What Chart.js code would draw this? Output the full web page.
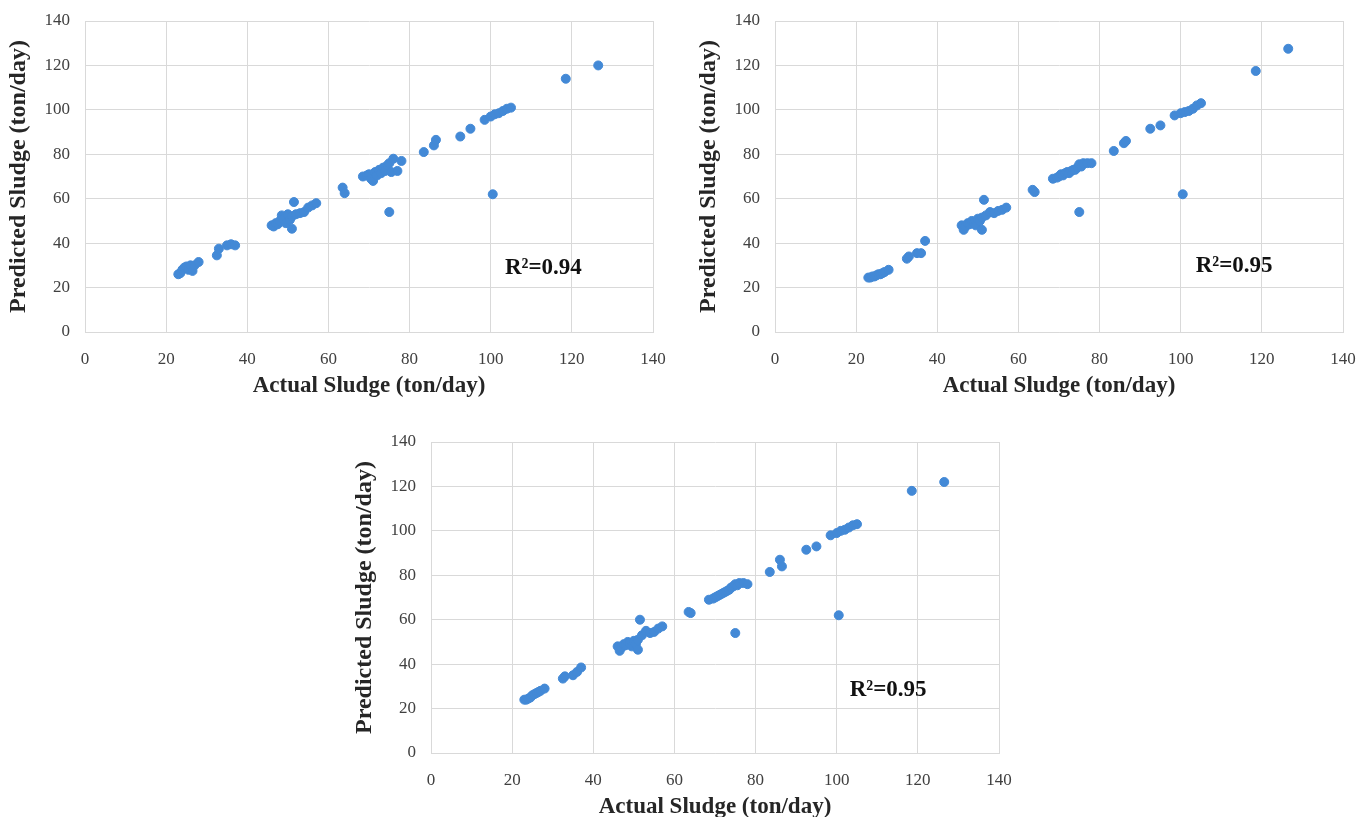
<!DOCTYPE html>
<html>
<head>
<meta charset="utf-8">
<script src="https://cdn.jsdelivr.net/npm/chart.js@4"></script>
<style>
  html, body { margin: 0; padding: 0; background: #fff; }
  body { width: 1372px; height: 817px; position: relative; overflow: hidden; }
  .box { position: absolute; width: 680px; height: 400px; }
</style>
</head>
<body>
<div class="box" style="left:0;top:0"><canvas id="c1"></canvas></div>
<div class="box" style="left:690px;top:0"><canvas id="c2"></canvas></div>
<div class="box" style="left:346px;top:421px"><canvas id="c3"></canvas></div>
<script>
// actual sludge (ton/day), shared x values of the three models
const actualSludge = [
  23.0, 23.5, 24.0, 24.5, 25.0, 25.5, 26.0, 26.5, 27.0, 28.0,
  32.5, 33.0, 35.0, 36.0, 37.0,
  46.0, 46.5, 47.0, 47.5, 48.0, 48.5, 49.0, 49.5, 50.0, 50.5, 51.0, 51.0, 51.5, 52.0, 53.0, 54.0, 55.0, 56.0, 57.0,
  63.5, 64.0,
  68.5, 69.5, 70.0, 70.5, 71.0, 71.5, 72.0, 72.5, 73.0, 73.5, 74.0, 74.5, 75.0, 75.5, 76.0, 77.0, 78.0,
  75.0,
  83.5, 86.0, 86.5,
  92.5, 95.0,
  98.5, 100.0, 101.0, 102.0, 103.0, 104.0, 105.0,
  100.5,
  118.5, 126.5
];

// predicted sludge, top-left chart
const predictedA = [
  26, 26.5, 28, 29, 29.5, 28, 30, 27.5, 30, 31.5,
  34.5, 37.5, 39, 39.5, 39,
  48, 47.5, 49, 48.5, 50, 52.5, 51, 49, 53, 50.5, 46.5, 52, 58.5, 53, 53.5, 54, 56, 57, 58,
  65, 62.5,
  70, 70.5, 71, 69, 68, 72, 70.5, 73, 71.5, 74, 72.5, 75, 76, 72, 78, 72.5, 77,
  54,
  81, 84, 86.5,
  88, 91.5,
  95.5, 97, 98, 98.5, 99.5, 100.5, 101,
  62,
  114, 120
];

// predicted sludge, top-right chart
const predictedB = [
  24.5, 24.5, 25, 25, 25.5, 26, 26, 26.5, 27, 28,
  33, 34, 35.5, 35.5, 41,
  48, 46, 47.5, 49, 48.5, 50, 49, 48, 51, 50, 46, 51.5, 59.5, 52.5, 54, 53.5, 54.5, 55, 56,
  64, 63,
  69, 69.5, 70, 71, 70.5, 71.5, 72, 71.5, 72.5, 73, 73, 74, 75.5, 74.5, 76, 76, 76,
  54,
  81.5, 85, 86,
  91.5, 93,
  97.5, 98.5, 99, 99.5, 100.5, 102, 103,
  62,
  117.5, 127.5
];

// predicted sludge, bottom chart
const predictedC = [
  24, 24, 24.5, 25, 26, 26.5, 27, 27.5, 28, 29,
  33.5, 34.5, 35, 36.5, 38.5,
  48, 46, 47.5, 49, 48.5, 50, 49.5, 48, 50.5, 49, 46.5, 51, 60, 53, 55, 54, 54.5, 56, 57,
  63.5, 63,
  69, 69.5, 70, 70.5, 71, 71.5, 72, 72.5, 73, 73.5, 74.5, 75, 76, 75.5, 76.5, 76.5, 76,
  54,
  81.5, 87, 84,
  91.5, 93,
  98, 99, 100, 100.5, 101.5, 102.5, 103,
  62,
  118, 122
];

const r2Labels = ['R\u00B2=0.94', 'R\u00B2=0.95', 'R\u00B2=0.95'];

const serif = "'Liberation Serif', 'Times New Roman', serif";

// plugin: writes the R² note in data coordinates
const r2Note = {
  id: 'r2Note',
  afterDatasetsDraw(chart, args, opts) {
    const { ctx, scales } = chart;
    ctx.save();
    ctx.font = 'bold 23px ' + serif;
    ctx.fillStyle = '#111';
    ctx.textAlign = 'left';
    ctx.textBaseline = 'middle';
    ctx.fillText(opts.text, scales.x.getPixelForValue(opts.x), scales.y.getPixelForValue(opts.y));
    ctx.restore();
  }
};

function makeChart(id, predicted, label, noteX, noteY) {
  const points = actualSludge.map((a, i) => ({ x: a, y: predicted[i] }));
  return new Chart(document.getElementById(id), {
    type: 'scatter',
    data: {
      datasets: [{
        data: points,
        backgroundColor: '#4389D6',
        borderColor: '#4389D6',
        pointRadius: 4.5,
        pointHoverRadius: 4.5
      }]
    },
    options: {
      responsive: true,
      maintainAspectRatio: false,
      animation: false,
      layout: { padding: { top: 21, right: 27, left: 4, bottom: 0 } },
      plugins: {
        legend: { display: false },
        tooltip: { enabled: false },
        r2Note: { text: label, x: noteX, y: noteY }
      },
      scales: {
        x: {
          type: 'linear',
          min: 0, max: 140,
          afterFit: s => { s.height = 68; s.paddingLeft = 0; s.paddingRight = 0; },
          grid: { color: '#d9d9d9', drawTicks: false },
          border: { color: '#d9d9d9' },
          ticks: { stepSize: 20, padding: 17, color: '#404040', font: { family: serif, size: 17 } },
          title: {
            display: true,
            text: 'Actual Sludge (ton/day)',
            color: '#262626',
            padding: { top: 0, bottom: 0 },
            font: { family: serif, size: 23, weight: 'bold' }
          }
        },
        y: {
          min: 0, max: 140,
          afterFit: s => { s.width = 81; s.paddingTop = 0; s.paddingBottom = 0; },
          grid: { color: '#d9d9d9', drawTicks: false },
          border: { color: '#d9d9d9' },
          ticks: { stepSize: 20, padding: 15, color: '#404040', font: { family: serif, size: 17 } },
          title: {
            display: true,
            text: 'Predicted Sludge (ton/day)',
            color: '#262626',
            padding: { top: 0, bottom: 0 },
            font: { family: serif, size: 24, weight: 'bold' }
          }
        }
      }
    },
    plugins: [r2Note]
  });
}

makeChart('c1', predictedA, r2Labels[0], 103.5, 28.8);
makeChart('c2', predictedB, r2Labels[1], 103.7, 29.7);
makeChart('c3', predictedC, r2Labels[2], 103.2, 28.4);
</script>
</body>
</html>
